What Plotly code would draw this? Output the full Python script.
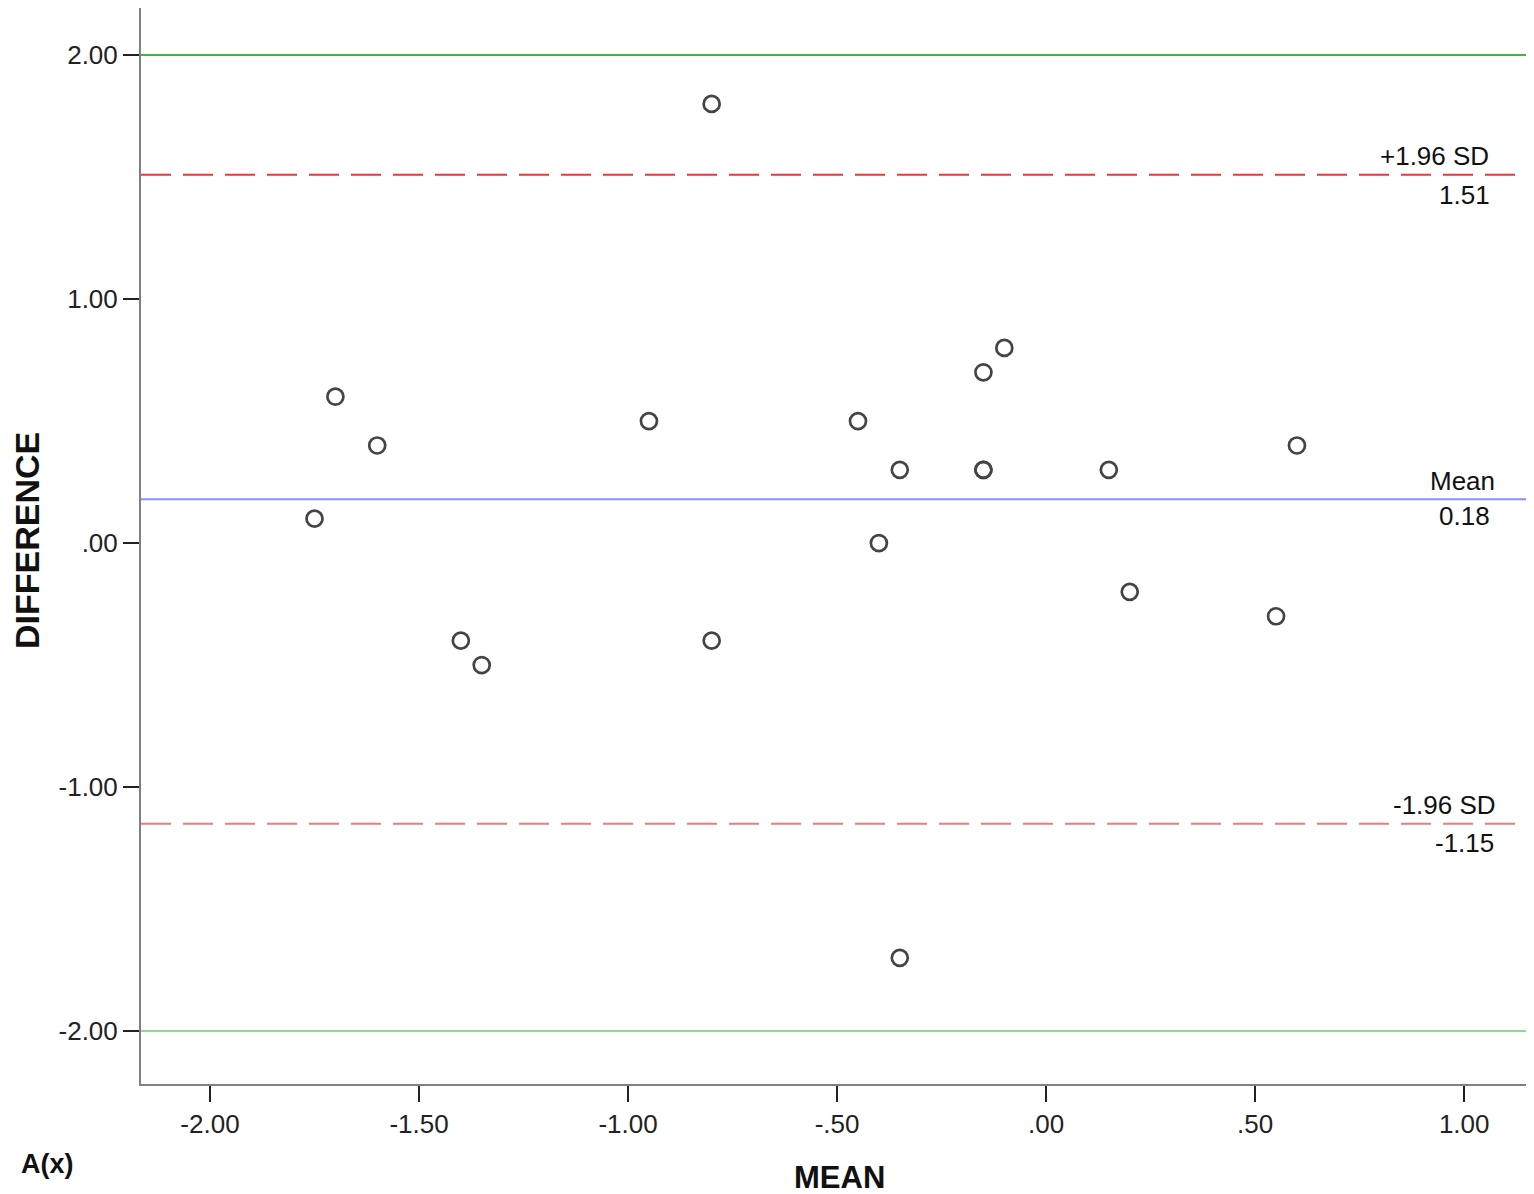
import plotly.graph_objects as go

# Data (Bland-Altman style)
mean_vals = [-0.80, -1.70, -1.60, -1.75, -1.40, -1.35, -0.95, -0.80, -0.45, -0.35,
             -0.40, -0.15, -0.10, -0.15, -0.15, 0.15, 0.20, 0.55, 0.60, -0.35]
diff_vals = [1.80, 0.60, 0.40, 0.10, -0.40, -0.50, 0.50, -0.40, 0.50, 0.30,
             0.00, 0.70, 0.80, 0.30, 0.30, 0.30, -0.20, -0.30, 0.40, -1.70]

mean_diff = 0.18
upper_loa = 1.51
lower_loa = -1.15
limit_hi = 2.0
limit_lo = -2.0

x_tickvals = [-2.0, -1.5, -1.0, -0.5, 0.0, 0.5, 1.0]
x_ticktext = ["-2.00", "-1.50", "-1.00", "-.50", ".00", ".50", "1.00"]
y_tickvals = [2.0, 1.0, 0.0, -1.0, -2.0]
y_ticktext = ["2.00", "1.00", ".00", "-1.00", "-2.00"]

FONT = "Arial, Liberation Sans, sans-serif"
X_RANGE = [-2.165, 1.167]
Y_RANGE = [-2.217, 2.193]

W, H = 1526, 1186
L, B, T, R = 133, 110, 0, 0
PW, PH = W - L - R, H - T - B
OFF = 8  # page body offset


def paper_xy(px, py):
    """Convert page pixel position to paper coordinates."""
    return (px - OFF - L) / PW, (H - B - (py - OFF)) / PH


fig = go.Figure()


def hline(y, color, dash="solid"):
    fig.add_trace(go.Scatter(x=X_RANGE, y=[y, y], mode="lines",
                             line=dict(color=color, width=2, dash=dash),
                             hoverinfo="skip", showlegend=False))


hline(limit_hi, "#3cb83c")
hline(limit_lo, "#8cdb8c")
hline(upper_loa, "#e8383c", "30px,12px")
hline(lower_loa, "#f07a7e", "30px,12px")
hline(mean_diff, "#8c8cff")

fig.add_trace(go.Scatter(x=mean_vals, y=diff_vals, mode="markers",
                         marker=dict(symbol="circle-open", size=16, color="#444444",
                                     line=dict(width=2.7, color="#444444")),
                         showlegend=False))

ann_font = dict(family=FONT, size=26, color="#111111")
labels = [
    ("+1.96 SD", upper_loa, 19, -30),
    (f"{upper_loa:.2f}", upper_loa, -20, 0),
    ("Mean", mean_diff, 18, -2),
    (f"{mean_diff:.2f}", mean_diff, -17, 0),
    ("-1.96 SD", lower_loa, 19, -20),
    (f"{lower_loa:.2f}", lower_loa, -19, 0),
]
for text, y, ys, xs in labels:
    fig.add_annotation(x=1.0, y=y, xref="x", yref="y", text=text, showarrow=False,
                       xanchor="center", yanchor="middle", yshift=ys, xshift=xs,
                       font=ann_font)

# Titles / panel label as annotations at fixed pixel positions
for text, (px, py), size, angle in [
    ("<b>A(x)</b>", (48, 1164), 27, 0),
    ("<b>MEAN</b>", (839, 1177), 31, 0),
    ("<b>DIFFERENCE</b>", (27, 541), 34, -90),
]:
    ax, ay = paper_xy(px, py)
    fig.add_annotation(x=ax, y=ay, xref="paper", yref="paper", text=text,
                       xanchor="center", yanchor="middle", showarrow=False,
                       textangle=angle,
                       font=dict(family=FONT, size=size, color="#111111"))

fig.update_layout(
    width=W, height=H,
    margin=dict(l=L, r=R, t=T, b=B, pad=0, autoexpand=False),
    plot_bgcolor="white", paper_bgcolor="white",
    showlegend=False,
    xaxis=dict(range=X_RANGE, tickvals=x_tickvals, ticktext=x_ticktext,
               showgrid=False, zeroline=False, showline=True, linecolor="#808080",
               linewidth=2, ticks="outside", ticklen=16, tickwidth=2, tickcolor="#222",
               tickfont=dict(family=FONT, size=26, color="#222"), automargin=False),
    yaxis=dict(range=Y_RANGE, tickvals=y_tickvals, ticktext=y_ticktext,
               showgrid=False, zeroline=False, showline=True, linecolor="#808080",
               linewidth=2, ticks="outside", ticklen=16, tickwidth=2, tickcolor="#222",
               tickfont=dict(family=FONT, size=26, color="#222"), automargin=False),
)

fig.write_html("out.html")
